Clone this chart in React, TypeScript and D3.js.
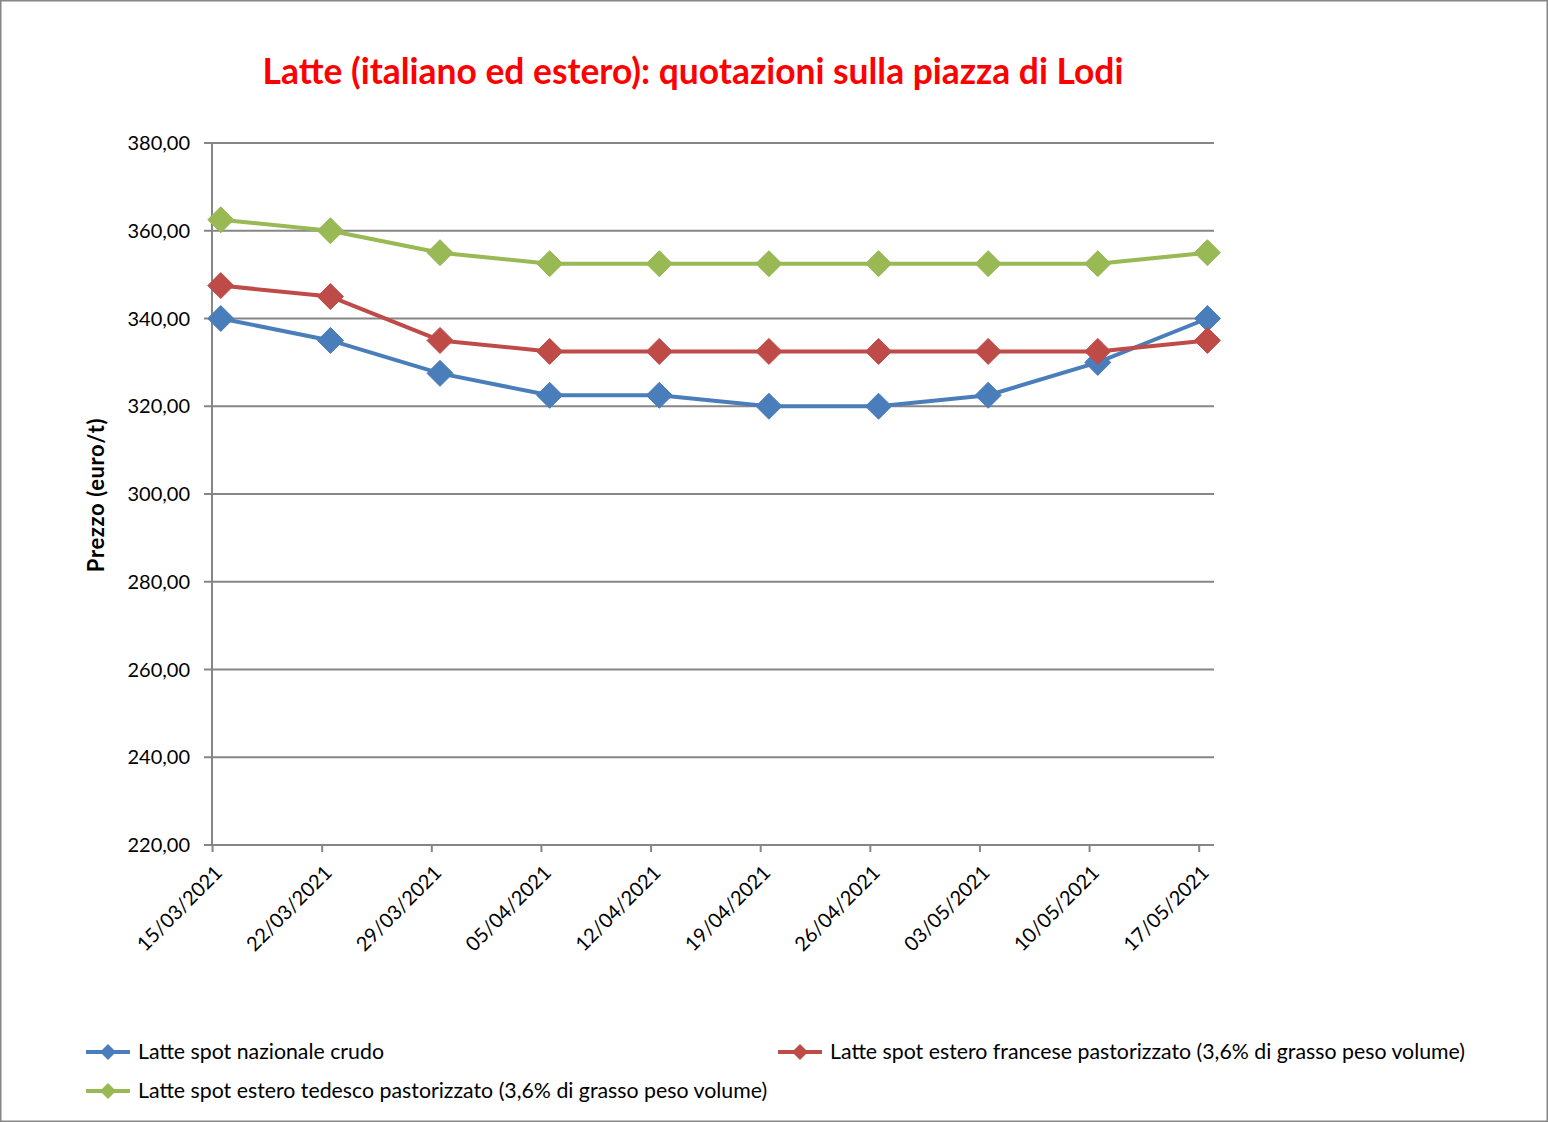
import React from "react";
import * as d3 from "d3";

const title = "Latte (italiano ed estero): quotazioni sulla piazza di Lodi";
const yAxisTitle = "Prezzo (euro/t)";
const dates = ["15/03/2021","22/03/2021","29/03/2021","05/04/2021","12/04/2021","19/04/2021","26/04/2021","03/05/2021","10/05/2021","17/05/2021"];
const yTicks = [220, 240, 260, 280, 300, 320, 340, 360, 380];
const nazionale = [340, 335, 327.5, 322.5, 322.5, 320, 320, 322.5, 330, 340];
const francese = [347.5, 345, 335, 332.5, 332.5, 332.5, 332.5, 332.5, 332.5, 335];
const tedesco = [362.5, 360, 355, 352.5, 352.5, 352.5, 352.5, 352.5, 352.5, 355];

const seriesNames = [
  "Latte spot nazionale crudo",
  "Latte spot estero francese pastorizzato (3,6% di grasso peso volume)",
  "Latte spot estero tedesco pastorizzato (3,6% di grasso peso volume)",
];
const seriesColors = ["#4A7EBB", "#BE4B48", "#98B954"];

const W = 1548, H = 1122;
const FONT = "Lato, 'Noto Sans', sans-serif";

export default function App() {
  const x = d3.scaleLinear().domain([-0.08, 9.06]).range([212, 1214]);
  const y = d3.scaleLinear().domain([220, 380]).range([845, 143]);
  const tickOffset = 0.075;
  const line = d3.line<number>().x((_, i) => x(i)).y((d) => y(d));
  const allSeries = [nazionale, francese, tedesco];
  const diamond = (cx: number, cy: number, r: number) =>
    `M${cx},${cy - r}L${cx + r},${cy}L${cx},${cy + r}L${cx - r},${cy}Z`;
  const legendItems = [
    { lx: 86, ly: 1052 },
    { lx: 778, ly: 1052 },
    { lx: 86, ly: 1091 },
  ];
  const axisColor = "#868686";
  const [x0, x1] = x.range();
  return (
    <svg width={W} height={H} style={{ position: "absolute", left: 0, top: 0, display: "block" }} fontFamily={FONT}>
      <rect x={0} y={0} width={W} height={H} fill="#fff" />
      <rect x={0.75} y={0.75} width={W - 1.5} height={H - 1.5} fill="none" stroke={axisColor} strokeWidth={1.5} />
      <text x={693} y={84} textAnchor="middle" fill="#FF0000" fontWeight="bold" fontSize={35.4}>{title}</text>
      {yTicks.map((t) => (
        <g key={t}>
          <line x1={204} x2={x1} y1={y(t)} y2={y(t)} stroke={axisColor} strokeWidth={2} />
          <text x={190} y={y(t) + 7} textAnchor="end" fontSize={20} fill="#000">{d3.format(".2f")(t).replace(".", ",")}</text>
        </g>
      ))}
      <line x1={x0} x2={x0} y1={y(380)} y2={y(220)} stroke={axisColor} strokeWidth={2} />
      {dates.map((d, i) => {
        const tx = x(i - tickOffset);
        return (
          <g key={d}>
            <line x1={tx} x2={tx} y1={y(220)} y2={y(220) + 7} stroke={axisColor} strokeWidth={2} />
            <text transform={`translate(${tx + 11},${y(220) + 29}) rotate(-45)`} textAnchor="end" fontSize={20} fill="#000">{d}</text>
          </g>
        );
      })}
      <text transform={`translate(104,495) rotate(-90)`} textAnchor="middle" fontSize={22} letterSpacing={0.6} fill="#000" fontWeight="bold">{yAxisTitle}</text>
      {allSeries.map((s, k) => (
        <g key={k}>
          <path d={line(s) || ""} fill="none" stroke={seriesColors[k]} strokeWidth={4} strokeLinejoin="round" />
          {s.map((v, i) => (
            <path key={i} d={diamond(x(i), y(v), 13)} fill={seriesColors[k]} stroke={seriesColors[k]} strokeWidth={1} strokeLinejoin="round" />
          ))}
        </g>
      ))}
      {legendItems.map((l, k) => (
        <g key={k}>
          <line x1={l.lx} x2={l.lx + 44} y1={l.ly} y2={l.ly} stroke={seriesColors[k]} strokeWidth={4} />
          <path d={diamond(l.lx + 22, l.ly, 8)} fill={seriesColors[k]} />
          <text x={l.lx + 52} y={l.ly + 7} fontSize={21.3} fill="#000">{seriesNames[k]}</text>
        </g>
      ))}
    </svg>
  );
}
